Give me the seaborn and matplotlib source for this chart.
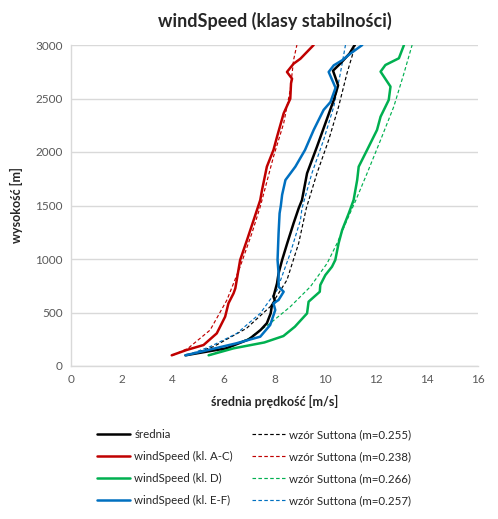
import matplotlib

matplotlib.use("Agg")

import matplotlib.pyplot as plt
import seaborn as sns

# measured profiles: height [m] and mean wind speed [m/s]
h_mean = [100, 165, 250, 336, 400, 492, 570, 600, 648, 773, 866, 991, 1147, 1334, 1474,
          1551, 1801, 2050, 2268, 2486, 2623, 2760, 2830, 2920, 3000]
v_mean = [4.5, 6.1, 7.0, 7.45, 7.7, 7.85, 7.9, 8.03, 7.96, 8.1, 8.16, 8.3, 8.5, 8.75, 8.95,
          9.08, 9.28, 9.67, 10.0, 10.33, 10.5, 10.3, 10.6, 10.95, 11.15]

h_ac = [100, 150, 196, 305, 461, 586, 679, 726, 991, 1178, 1364, 1551, 1645, 1863, 2019,
        2143, 2361, 2498, 2642, 2685, 2748, 2825, 2872, 3000]
v_ac = [3.96, 4.55, 5.21, 5.73, 6.06, 6.19, 6.39, 6.46, 6.65, 6.92, 7.18, 7.44, 7.51, 7.70, 7.96,
        8.10, 8.36, 8.62, 8.65, 8.69, 8.49, 8.75, 9.02, 9.54]

h_d = [100, 165, 220, 280, 367, 492, 601, 694, 757, 850, 928, 991, 1147, 1271, 1427, 1551,
       1738, 1863, 2019, 2206, 2330, 2486, 2611, 2751, 2813, 2876, 3000]
v_d = [5.41, 6.39, 7.6, 8.35, 8.8, 9.28, 9.34, 9.78, 9.80, 10.0, 10.26, 10.39, 10.52, 10.66, 10.92, 11.11,
       11.25, 11.31, 11.64, 12.03, 12.17, 12.49, 12.56, 12.17, 12.36, 12.89, 13.09]

h_ef = [100, 212, 274, 383, 523, 586, 617, 694, 741, 866, 991, 1240, 1427, 1500, 1600, 1738,
        1863, 2019, 2206, 2393, 2467, 2600, 2748, 2810, 2857, 2919, 3000]
v_ef = [4.5, 6.5, 7.44, 7.83, 8.03, 7.96, 8.16, 8.36, 8.16, 8.16, 8.12, 8.16, 8.2, 8.25, 8.3, 8.43,
        8.82, 9.2, 9.54, 9.93, 10.2, 10.4, 10.13, 10.33, 10.66, 10.98, 11.45]

# Sutton power-law fits
hs_mean = [100, 181, 352, 554, 804, 1147, 1474, 1801, 2112, 2424, 2736, 3000]
vs_mean = [4.6, 5.6, 6.9, 7.83, 8.49, 8.95, 9.25, 9.67, 10.13, 10.52, 10.85, 11.18]

hs_ac = [100, 165, 336, 617, 928, 1240, 1489, 1956, 2268, 2580, 2860, 3000]
vs_ac = [4.0, 4.6, 5.47, 6.13, 6.65, 7.11, 7.44, 7.96, 8.36, 8.62, 8.75, 8.88]

hs_d = [100, 180, 260, 399, 554, 741, 960, 1147, 1364, 1551, 1801, 2112, 2424, 2736, 3000]
vs_d = [5.45, 6.3, 7.0, 7.83, 8.62, 9.41, 10.07, 10.46, 10.85, 11.2, 11.64, 12.17, 12.69, 13.09, 13.41]

hs_ef = [100, 181, 305, 492, 710, 1054, 1364, 1474, 1801, 2112, 2424, 2736, 3000]
vs_ef = [4.55, 5.47, 6.52, 7.44, 8.10, 8.62, 9.02, 9.08, 9.47, 9.93, 10.33, 10.59, 10.79]

BLACK = "#000000"
RED = "#C00000"
GREEN = "#00B050"
BLUE = "#0070C0"

sns.set_theme(style="white")
plt.rcParams["font.family"] = ["Lato", "DejaVu Sans"]

fig = plt.figure(figsize=(4.98, 5.19), dpi=100)
ax = fig.add_axes([71 / 498, 1 - 366 / 519, 407 / 498, 321 / 519])

solid = [
    (v_mean, h_mean, BLACK, "średnia"),
    (v_ac, h_ac, RED, "windSpeed (kl. A-C)"),
    (v_d, h_d, GREEN, "windSpeed (kl. D)"),
    (v_ef, h_ef, BLUE, "windSpeed (kl. E-F)"),
]
dashed = [
    (vs_mean, hs_mean, BLACK, "wzór Suttona (m=0.255)"),
    (vs_ac, hs_ac, RED, "wzór Suttona (m=0.238)"),
    (vs_d, hs_d, GREEN, "wzór Suttona (m=0.266)"),
    (vs_ef, hs_ef, BLUE, "wzór Suttona (m=0.257)"),
]

for v, h, c, lab in dashed:
    sns.lineplot(x=v, y=h, sort=False, estimator=None, color=c, lw=0.85,
                 linestyle=(0, (3, 2)), label=lab, ax=ax)
for v, h, c, lab in solid:
    sns.lineplot(x=v, y=h, sort=False, estimator=None, color=c, lw=1.8,
                 label=lab, ax=ax)

ax.set_xlim(0, 16)
ax.set_ylim(0, 3000)
ax.set_xticks(range(0, 17, 2))
ax.set_yticks(range(0, 3001, 500))
ax.grid(axis="y", color="#D9D9D9", lw=1)
ax.set_axisbelow(True)
for side in ["top", "right"]:
    ax.spines[side].set_visible(False)
for side in ["left", "bottom"]:
    ax.spines[side].set_color("#D9D9D9")
    ax.spines[side].set_linewidth(1)
ax.tick_params(axis="both", length=0, labelsize=8.5, labelcolor="#595959", pad=6)

ax.set_title("windSpeed (klasy stabilności)", fontsize=13, fontweight="bold", pad=13)
ax.set_xlabel("średnia prędkość [m/s]", fontsize=9, fontweight="bold", labelpad=7)
ax.set_ylabel("wysokość [m]", fontsize=9, fontweight="bold", labelpad=9)

handles, labels = ax.get_legend_handles_labels()
order = [4, 5, 6, 7, 0, 1, 2, 3]
ax.get_legend().remove()
fig.legend([handles[i] for i in order], [labels[i] for i in order],
           ncol=2, loc="upper left", bbox_to_anchor=(97 / 498, 1 - 429 / 519),
           frameon=False, fontsize=8.3, handlelength=2.9, handletextpad=0.35,
           columnspacing=1.6, labelspacing=0.95, borderaxespad=0, borderpad=0)

fig.savefig("out.png", dpi=100)
